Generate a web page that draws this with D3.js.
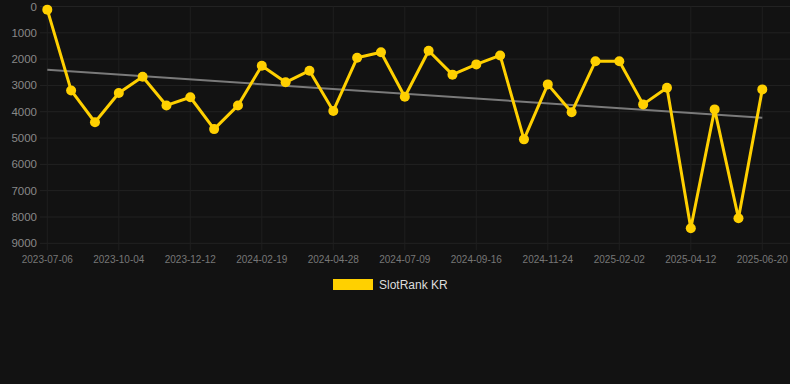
<!DOCTYPE html>
<html><head><meta charset="utf-8">
<script src="https://cdn.jsdelivr.net/npm/d3@7"></script>
<style>html,body{margin:0;padding:0;background:#121212;}svg{display:block;}</style>
</head><body>
<svg id="c" width="790" height="384"></svg>
<script>
const dates = ["2023-07-06","2023-08-05","2023-09-04","2023-10-04","2023-10-27","2023-11-19","2023-12-12","2024-01-03","2024-01-26","2024-02-19","2024-03-12","2024-04-05","2024-04-28","2024-05-21","2024-06-15","2024-07-09","2024-08-01","2024-08-24","2024-09-16","2024-10-09","2024-11-01","2024-11-24","2024-12-17","2025-01-09","2025-02-02","2025-02-27","2025-03-20","2025-04-12","2025-05-05","2025-05-28","2025-06-20"];
const ranks = [120,3190,4400,3290,2670,3760,3450,4660,3760,2250,2880,2440,3970,1950,1740,3430,1680,2590,2200,1860,5050,2960,4020,2080,2080,3720,3090,8430,3910,8050,3150];
const yTicks = [0,1000,2000,3000,4000,5000,6000,7000,8000,9000];
const xTickLabels = ["2023-07-06","2023-10-04","2023-12-12","2024-02-19","2024-04-28","2024-07-09","2024-09-16","2024-11-24","2025-02-02","2025-04-12","2025-06-20"];
const seriesName = "SlotRank KR";

const svg = d3.select("#c");
const W = 790;
const pL = 47.3, pR = 762.3, pT = 6.5, pB = 243.3;
const x = d3.scalePoint().domain(dates).range([pL, pR]);
const y = d3.scaleLinear().domain([0, 9000]).range([pT, pB]);

// grid
const grid = svg.append("g");
grid.selectAll("line.h").data(yTicks).join("line")
  .attr("x1", 40).attr("x2", W).attr("y1", d => y(d)).attr("y2", d => y(d))
  .attr("stroke", "#222").attr("stroke-width", 1);
grid.selectAll("line.v").data(xTickLabels).join("line")
  .attr("x1", d => x(d)).attr("x2", d => x(d)).attr("y1", pT).attr("y2", pB + 7)
  .attr("stroke", "#1f1f1f").attr("stroke-width", 1);

// y axis labels
svg.append("g").selectAll("text").data(yTicks).join("text")
  .attr("x", 37).attr("y", d => y(d)).attr("dy", "0.35em")
  .attr("text-anchor", "end").attr("fill", "#888")
  .attr("font-family", "Arial, Liberation Sans, sans-serif").attr("font-size", 11.5)
  .text(d => d);

// x axis labels
svg.append("g").selectAll("text").data(xTickLabels).join("text")
  .attr("x", d => x(d)).attr("y", pB + 16).attr("dy", "0.35em")
  .attr("text-anchor", "middle").attr("fill", "#777")
  .attr("font-family", "Arial, Liberation Sans, sans-serif").attr("font-size", 10)
  .text(d => d);

// trend (least squares)
const n = ranks.length;
const idx = d3.range(n);
const mx = d3.mean(idx), my = d3.mean(ranks);
const slope = d3.sum(idx, i => (i - mx) * (ranks[i] - my)) / d3.sum(idx, i => (i - mx) ** 2);
const icpt = my - slope * mx;
svg.append("line")
  .attr("x1", x(dates[0])).attr("y1", y(icpt))
  .attr("x2", x(dates[n-1])).attr("y2", y(icpt + slope * (n - 1)))
  .attr("stroke", "#7a7a7a").attr("stroke-width", 2);

// series line
const line = d3.line().x((d, i) => x(dates[i])).y(d => y(d));
svg.append("path").datum(ranks).attr("d", line)
  .attr("fill", "none").attr("stroke", "#FFD000").attr("stroke-width", 3).attr("stroke-linejoin", "round");
svg.append("g").selectAll("circle").data(ranks).join("circle")
  .attr("cx", (d, i) => x(dates[i])).attr("cy", d => y(d)).attr("r", 5)
  .attr("fill", "#FFD000");

// legend
const lg = svg.append("g");
lg.append("rect").attr("x", 333).attr("y", 279).attr("width", 40).attr("height", 11).attr("fill", "#FFD000");
lg.append("text").attr("x", 379).attr("y", 285).attr("dy", "0.35em")
  .attr("fill", "#ddd").attr("font-family", "Arial, Liberation Sans, sans-serif").attr("font-size", 12)
  .text(seriesName);
</script>
</body></html>
